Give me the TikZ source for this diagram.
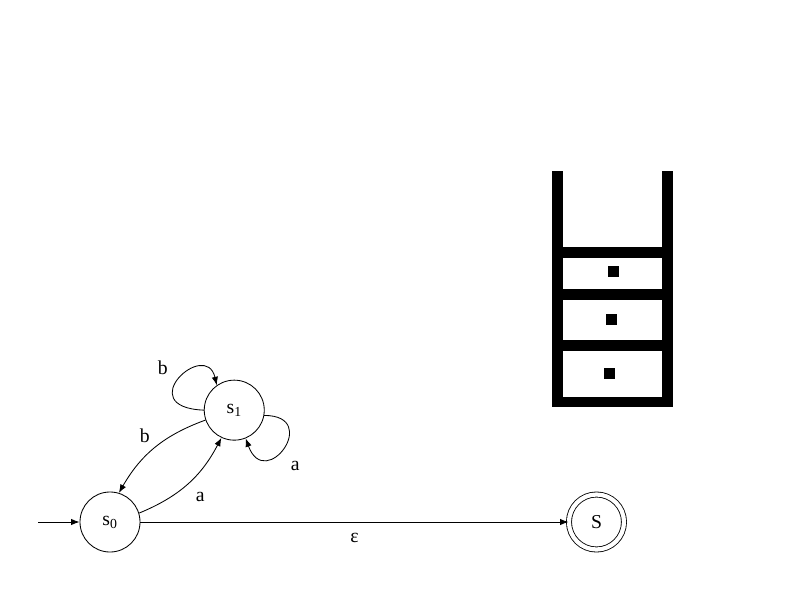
\documentclass[tikz,border=0pt]{standalone}
\usepackage{fontspec}
\setmainfont{Liberation Serif}
\usetikzlibrary{arrows.meta, positioning}

\begin{document}
\begin{tikzpicture}[x=0.025cm, y=0.025cm, line width=0.6pt,
    >={Latex[length=6pt,width=4.5pt]},
    font=\fontsize{14}{16}\selectfont,
    state/.style={circle, draw, minimum size=1.5cm, inner sep=0pt},
    accept/.style={state, double, double distance=3pt, minimum size=1.375cm}]
  \useasboundingbox (0,0) rectangle (800,600);
  \node[state] (s0) at (110,78) {s\textsubscript{0}};
  \node[state] (s1) [above right=1.72cm and 2.03cm of s0] {s\textsubscript{1}};
  \node[accept] (S) [right=10.7cm of s0] {S};
  \coordinate (start) at (38,78);
  \draw[->] (start) -- (s0);
  \draw[->] (s0) -- node[below=4pt] {ε} (S);
  \draw[->] (s0.17) to[bend right=20] node[below right=3pt] {a} (s1.245);
  \draw[->] (s1.199) to[bend right=20] node[above left] {b} (s0.73);
  \draw[->] (s1.180) .. controls +(-73,3) and +(-11,47) .. node[pos=0.45, above left=3pt] {b} (s1.125);
  \draw[->] (s1.-10) to[out=0, in=-70, looseness=5] node[pos=0.55, below right=5pt] {a} (s1.-68);
  % stack
  \fill (552,193) rectangle (563,429);
  \fill (662,193) rectangle (673,429);
  \fill (552,193) rectangle (673,203);
  \fill (552,342) rectangle (673,353);
  \fill (552,300) rectangle (673,311);
  \fill (552,249) rectangle (673,260);
  \fill (608,323) rectangle (619,334);
  \fill (606,275) rectangle (617,286);
  \fill (604,221) rectangle (615,232);
\end{tikzpicture}
\end{document}
